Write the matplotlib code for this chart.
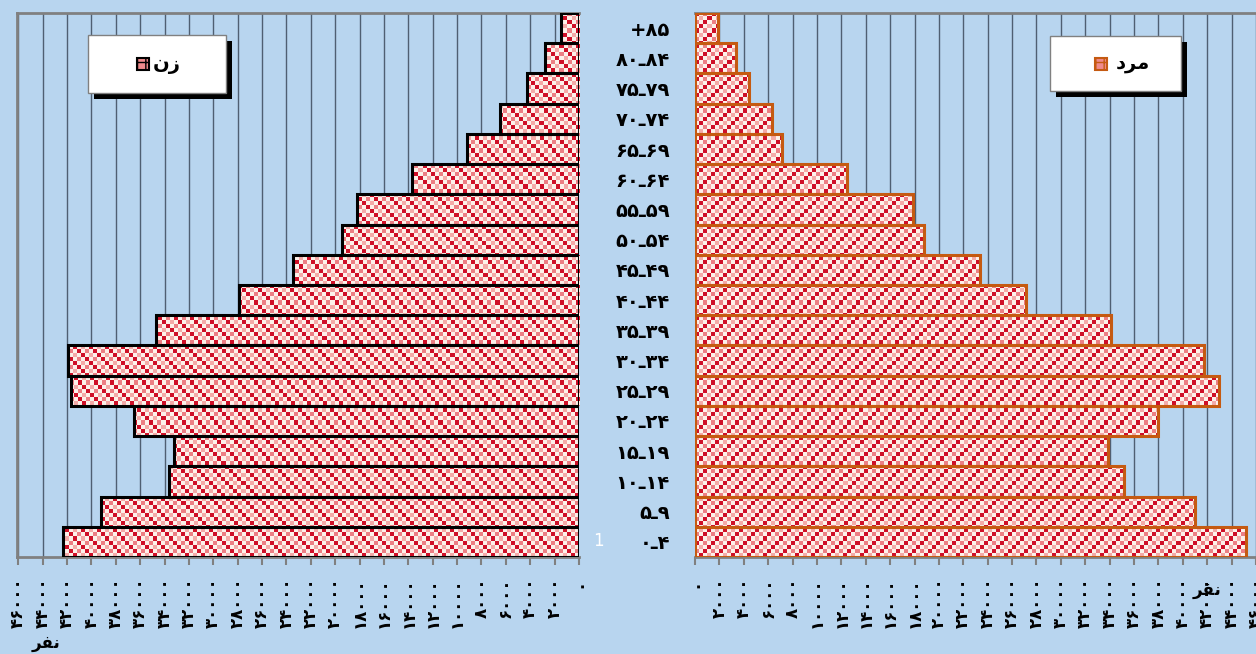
import matplotlib
matplotlib.use("Agg")
import matplotlib.pyplot as plt
from matplotlib.patches import Rectangle
import numpy as np

# ---- data (bottom to top) ----
AGES = ["0-4", "5-9", "10-14", "15-19", "20-24", "25-29", "30-34", "35-39", "40-44",
        "45-49", "50-54", "55-59", "60-64", "65-69", "70-74", "75-79", "80-84", "+85"]
WOMEN = [42300, 39200, 33600, 33200, 36500, 41700, 41900, 34700, 27900,
         23500, 19400, 18200, 13700, 9200, 6500, 4300, 2800, 1500]
MEN = [45200, 41000, 35200, 33900, 38000, 43000, 41700, 34100, 27100,
       23400, 18800, 17900, 12500, 7100, 6300, 4400, 3400, 1900]
TICKS = list(range(0, 46001, 2000))
WOMEN_LABEL = "نز"          # "زن" in visual order
MEN_LABEL = "د\uFEAE\uFEE3"  # "مرد" shaped, visual order
UNIT_LABEL = "\uFEAE\uFED4\uFEE7"  # "نفر" shaped, visual order

FA = str.maketrans("0123456789-", "۰۱۲۳۴۵۶۷۸۹ـ")
def fa(s): return str(s).translate(FA)

BG = "#b8d5ef"
W, H = 1256, 654

# checker texture used to fill the bars
RED, WHITE, PINK, LPINK = [np.array(matplotlib.colors.to_rgb(c)) for c in
                           ("#cf1028", "#fdf1ea", "#ec7f84", "#f4aaa8")]
TILE = [[RED, WHITE, PINK, WHITE],
        [WHITE, LPINK, WHITE, RED],
        [PINK, WHITE, RED, WHITE],
        [WHITE, RED, WHITE, LPINK]]

def texture(nx, ny):
    img = np.zeros((ny, nx, 3))
    for i in range(ny):
        for j in range(nx):
            img[i, j] = TILE[i % 4][j % 4]
    return img

fig = plt.figure(figsize=(W / 100, H / 100), dpi=100, facecolor=BG)

def px_axes(x0, y0, x1, y1):
    return fig.add_axes([x0 / W, 1 - y1 / H, (x1 - x0) / W, (y1 - y0) / H])

axL = px_axes(17, 13, 579, 557)
axR = px_axes(695, 13, 1256, 557)

def draw_side(ax, vals, xmax, edge, lw, flip):
    ax.set_facecolor(BG)
    ax.set_axisbelow(True)
    bars = ax.barh(range(len(vals)), vals, height=1.0, facecolor="none",
                   edgecolor=edge, linewidth=lw, zorder=3)
    w_px = ax.get_position().width * W
    h_px = ax.get_position().height * H
    tex = texture(int(w_px / 4), int(h_px / 4))
    for b in bars:
        im = ax.imshow(tex, extent=[0, xmax, -0.5, len(vals) - 0.5], aspect="auto",
                       interpolation="nearest", zorder=2)
        im.set_clip_path(b)
    ax.set_ylim(-0.5, len(vals) - 0.5)
    ax.set_xlim((xmax, 0) if flip else (0, xmax))
    ax.set_xticks(TICKS)
    ax.set_xticklabels([fa(t) for t in TICKS], rotation=90, fontweight="bold", fontsize=12)
    ax.tick_params(axis="x", length=6, width=1.5, color="#808080", pad=9)
    ax.grid(axis="x", color="#4f5f72", linewidth=1.0)
    for s in ax.spines.values():
        s.set_color("#808080"); s.set_linewidth(2)
    ax.spines["right" if flip else "left"].set_visible(False)
    if not flip:
        ax.spines["right"].set_visible(False)

draw_side(axL, WOMEN, 46100, "black", 2.2, True)
axL.set_yticks([])
draw_side(axR, MEN, 46000, "#c55a11", 2.2, False)
axR.set_yticks(range(len(AGES)))
axR.set_yticklabels([fa(a) for a in AGES], fontweight="bold", fontsize=14)
axR.tick_params(axis="y", length=0, pad=18)

# ---- legends (white boxes with black shadow) ----
def legend_box(x0, y0, x1, y1, sq_x, text_x, label, edge):
    fig.patches.append(Rectangle((x0 / W + 6 / W, 1 - (y1 + 6) / H), (x1 - x0) / W, (y1 - y0) / H,
                                 transform=fig.transFigure, facecolor="black", zorder=5))
    fig.patches.append(Rectangle((x0 / W, 1 - y1 / H), (x1 - x0) / W, (y1 - y0) / H,
                                 transform=fig.transFigure, facecolor="white",
                                 edgecolor="#808080", linewidth=1, zorder=6))
    yc = (y0 + y1) / 2
    fig.patches.append(Rectangle((sq_x / W, 1 - (yc + 6) / H), 12 / W, 12 / H,
                                 transform=fig.transFigure, facecolor="#ef8a8c",
                                 edgecolor=edge, linewidth=1.5, hatch="++", zorder=7))
    fig.text(text_x / W, 1 - yc / H, label, ha="left", va="center", fontsize=14,
             fontweight="bold", zorder=8)

plt.rcParams["hatch.color"] = "#d3182c"
legend_box(88, 35, 226, 93, 137, 153, WOMEN_LABEL, "black")
legend_box(1050, 36, 1181, 91, 1095, 1116, MEN_LABEL, "#c55a11")

fig.text(46 / W, 1 - 643 / H, UNIT_LABEL, ha="center", va="center", fontsize=12, fontweight="bold")
fig.text(1207 / W, 1 - 590 / H, UNIT_LABEL, ha="center", va="center", fontsize=12, fontweight="bold")
fig.text(598 / W, 1 - 541 / H, "1", ha="center", va="center", fontsize=12, color="white")

fig.savefig("out.png", dpi=100, facecolor=BG)
